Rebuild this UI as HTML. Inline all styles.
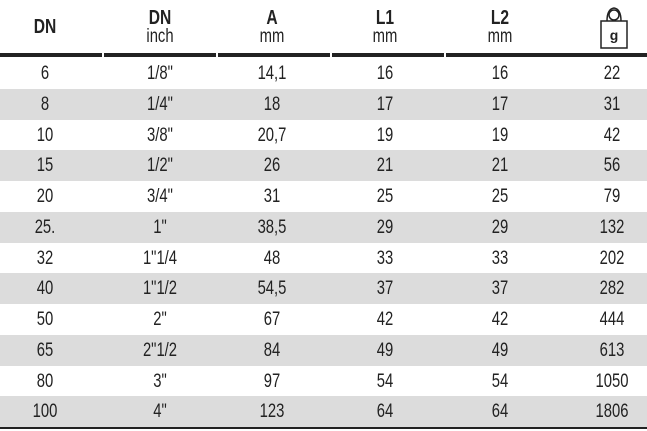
<!DOCTYPE html>
<html><head><style>
body{margin:0;width:647px;height:431px;background:#fff;font-family:"Liberation Sans",sans-serif;color:#222;position:relative;overflow:hidden}
.h{position:absolute;top:9px;text-align:center;width:100px;font-size:19px;line-height:18px;transform:scaleX(0.78)}
.h b{font-size:20px}
.hl{position:absolute;top:53px;height:4px;background:#222}
.r{position:absolute;left:0;width:647px;height:31px;font-size:19px;line-height:31px}
.g{background:#dcdcdc}
.r span{position:absolute;width:100px;text-align:center;top:0;transform:scaleX(0.78)}
.bl{position:absolute;top:427px;height:2px;background:#222}
</style></head><body>
<div class="h" style="left:-5px;top:18px"><b>DN</b></div>
<div class="h" style="left:110px"><b>DN</b><br>inch</div>
<div class="h" style="left:222px"><b>A</b><br>mm</div>
<div class="h" style="left:335px"><b>L1</b><br>mm</div>
<div class="h" style="left:450px"><b>L2</b><br>mm</div>
<svg style="position:absolute;left:596px;top:5px" width="36" height="45" viewBox="0 0 36 45">
<circle cx="18" cy="10" r="5" fill="none" stroke="#222" stroke-width="1.5"/>
<path d="M11 16 Q11 4 18 3 Q25 4 25 16" fill="none" stroke="#222" stroke-width="1.5"/>
<rect x="5" y="16" width="26" height="27" fill="none" stroke="#222" stroke-width="1.5"/>
<text x="18" y="35" text-anchor="middle" font-family="Liberation Sans" font-weight="bold" font-size="14" fill="#222">g</text>
</svg>
<div class="hl" style="left:0;width:102px"></div>
<div class="hl" style="left:104px;width:112px"></div>
<div class="hl" style="left:218px;width:112px"></div>
<div class="hl" style="left:332px;width:112px"></div>
<div class="hl" style="left:446px;width:201px"></div>

<div class="r" style="top:58px"><span style="left:-5px">6</span><span style="left:110px">1/8"</span><span style="left:222px">14,1</span><span style="left:335px">16</span><span style="left:450px">16</span><span style="left:562px">22</span></div>
<div class="r g" style="top:89px"><span style="left:-5px">8</span><span style="left:110px">1/4"</span><span style="left:222px">18</span><span style="left:335px">17</span><span style="left:450px">17</span><span style="left:562px">31</span></div>
<div class="r" style="top:120px"><span style="left:-5px">10</span><span style="left:110px">3/8"</span><span style="left:222px">20,7</span><span style="left:335px">19</span><span style="left:450px">19</span><span style="left:562px">42</span></div>
<div class="r g" style="top:150px"><span style="left:-5px">15</span><span style="left:110px">1/2"</span><span style="left:222px">26</span><span style="left:335px">21</span><span style="left:450px">21</span><span style="left:562px">56</span></div>
<div class="r" style="top:181px"><span style="left:-5px">20</span><span style="left:110px">3/4"</span><span style="left:222px">31</span><span style="left:335px">25</span><span style="left:450px">25</span><span style="left:562px">79</span></div>
<div class="r g" style="top:212px"><span style="left:-5px">25.</span><span style="left:110px">1"</span><span style="left:222px">38,5</span><span style="left:335px">29</span><span style="left:450px">29</span><span style="left:562px">132</span></div>
<div class="r" style="top:243px"><span style="left:-5px">32</span><span style="left:110px">1"1/4</span><span style="left:222px">48</span><span style="left:335px">33</span><span style="left:450px">33</span><span style="left:562px">202</span></div>
<div class="r g" style="top:273px"><span style="left:-5px">40</span><span style="left:110px">1"1/2</span><span style="left:222px">54,5</span><span style="left:335px">37</span><span style="left:450px">37</span><span style="left:562px">282</span></div>
<div class="r" style="top:304px"><span style="left:-5px">50</span><span style="left:110px">2"</span><span style="left:222px">67</span><span style="left:335px">42</span><span style="left:450px">42</span><span style="left:562px">444</span></div>
<div class="r g" style="top:335px"><span style="left:-5px">65</span><span style="left:110px">2"1/2</span><span style="left:222px">84</span><span style="left:335px">49</span><span style="left:450px">49</span><span style="left:562px">613</span></div>
<div class="r" style="top:366px"><span style="left:-5px">80</span><span style="left:110px">3"</span><span style="left:222px">97</span><span style="left:335px">54</span><span style="left:450px">54</span><span style="left:562px">1050</span></div>
<div class="r g" style="top:396px"><span style="left:-5px">100</span><span style="left:110px">4"</span><span style="left:222px">123</span><span style="left:335px">64</span><span style="left:450px">64</span><span style="left:562px">1806</span></div>
<div class="bl" style="left:0;width:647px"></div>
</body></html>
